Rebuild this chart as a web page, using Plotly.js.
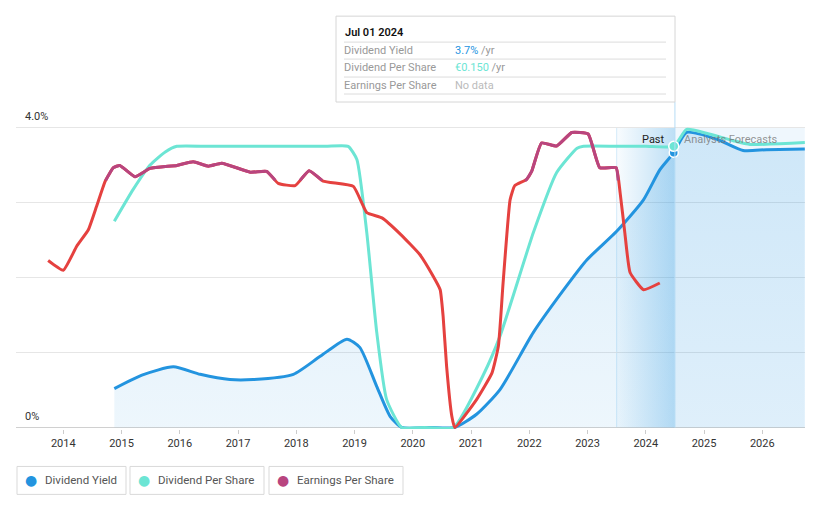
<!DOCTYPE html>
<html>
<head>
<meta charset="utf-8">
<script src="https://cdn.plot.ly/plotly-3.0.1.min.js"></script>
<style>html,body{margin:0;padding:0;background:#fff;}#chart{width:821px;height:508px;}</style>
</head>
<body>
<div id="chart"></div>
<script>
// ---- Data ----
const yieldYears = [2014.876, 2015.35, 2015.89, 2016.35, 2016.86, 2017.26, 2017.95, 2018.41, 2018.87, 2019.09, 2019.38, 2019.61, 2019.81, 2020.3, 2020.72, 2021.1, 2021.5, 2022.07, 2022.64, 2022.99, 2023.5, 2023.96, 2024.24, 2024.48, 2024.7, 2025.22, 2025.67, 2026.07, 2026.73];
const yieldPct   = [0.52, 0.70, 0.81, 0.71, 0.64, 0.64, 0.71, 0.95, 1.18, 1.07, 0.55, 0.15, 0.0, 0.0, 0.0, 0.18, 0.51, 1.27, 1.89, 2.24, 2.62, 3.04, 3.44, 3.67, 3.94, 3.85, 3.70, 3.71, 3.72];

const dpsYears = [2014.876, 2015.2, 2015.49, 2015.75, 2015.95, 2016.5, 2017.5, 2018.5, 2018.89, 2019.04, 2019.21, 2019.38, 2019.55, 2019.81, 2020.2, 2020.70, 2021.21, 2021.5, 2022.07, 2022.47, 2022.82, 2022.93, 2023.5, 2024.0, 2024.48, 2024.7, 2025.04, 2025.5, 2025.79, 2026.73];
const dpsEur   = [0.110, 0.127, 0.140, 0.147, 0.150, 0.150, 0.150, 0.150, 0.150, 0.143, 0.104, 0.051, 0.015, 0.0, 0.0, 0.0, 0.028, 0.049, 0.104, 0.136, 0.149, 0.150, 0.150, 0.150, 0.150, 0.159, 0.157, 0.153, 0.151, 0.152];

const epsYears = [2013.74, 2014.0, 2014.23, 2014.43, 2014.57, 2014.72, 2014.86, 2014.97, 2015.23, 2015.49, 2015.95, 2016.23, 2016.49, 2016.72, 2017.21, 2017.49, 2017.69, 2017.98, 2018.22, 2018.46, 2018.98, 2019.21, 2019.47, 2019.79, 2020.12, 2020.35, 2020.47, 2020.52, 2020.58, 2020.67, 2020.72, 2021.10, 2021.36, 2021.47, 2021.55, 2021.67, 2021.75, 2021.95, 2022.04, 2022.21, 2022.47, 2022.73, 2023.01, 2023.21, 2023.49, 2023.56, 2023.64, 2023.73, 2023.96, 2024.24];
const epsVal   = [2.23, 2.10, 2.42, 2.64, 2.95, 3.29, 3.47, 3.50, 3.35, 3.46, 3.50, 3.55, 3.49, 3.53, 3.41, 3.42, 3.26, 3.23, 3.43, 3.29, 3.22, 2.87, 2.80, 2.58, 2.31, 2.02, 1.84, 1.49, 0.82, 0.15, 0.0, 0.38, 0.73, 1.09, 1.93, 3.04, 3.23, 3.31, 3.42, 3.80, 3.76, 3.94, 3.92, 3.47, 3.47, 3.13, 2.60, 2.07, 1.84, 1.93];
const epsThreshold = 3.3;

const xTickVals = [2014, 2015, 2016, 2017, 2018, 2019, 2020, 2021, 2022, 2023, 2024, 2025, 2026];
const xTickText = ["2014", "2015", "2016", "2017", "2018", "2019", "2020", "2021", "2022", "2023", "2024", "2025", "2026"];
const yTickVals = [0, 1, 2, 3, 4];
const yTickText = ["0%", "", "", "", "4.0%"];

const seriesNames = ["Dividend Yield", "Dividend Per Share", "Earnings Per Share"];
const tooltipDate = "Jul 01 2024";
const tooltipValues = ["3.7%", "€0.150", "No data"];
const tooltipUnits = [" /yr", " /yr", ""];
const pastStart = 2023.5, nowX = 2024.5, xEnd = 2026.73;

// ---- Colors ----
const C_YIELD = "#2394df", C_DPS = "#6ce5d4", C_EPS_HI = "#b8457f", C_EPS_LO = "#e5413f";

// Build purple (above threshold) segments of EPS with crossing points
const epsHiX = [], epsHiY = [];
for (let i = 0; i < epsYears.length; i++) {
  const v = epsVal[i];
  if (i > 0) {
    const pv = epsVal[i-1];
    if ((pv - epsThreshold) * (v - epsThreshold) < 0) {
      const t = (epsThreshold - pv) / (v - pv);
      epsHiX.push(epsYears[i-1] + t * (epsYears[i] - epsYears[i-1]));
      epsHiY.push(epsThreshold);
      if (v < epsThreshold) { epsHiX.push(null); epsHiY.push(null); }
    }
  }
  if (v >= epsThreshold) { epsHiX.push(epsYears[i]); epsHiY.push(v); }
}

const traces = [
  {x:[nowX, xEnd, xEnd, nowX, nowX], y:[0,0,4,4,0], mode:'lines', fill:'toself', line:{width:0},
   fillcolor:'rgba(35,148,223,0.07)', hoverinfo:'skip', showlegend:false},
  {x:[pastStart, nowX, nowX, pastStart, pastStart], y:[0,0,4,4,0], mode:'lines', fill:'toself', line:{width:0},
   fillgradient:{type:'horizontal', colorscale:[[0,'rgba(35,148,223,0.03)'],[1,'rgba(35,148,223,0.30)']]},
   hoverinfo:'skip', showlegend:false},
  {x:yieldYears, y:yieldPct, mode:'lines', name:seriesNames[0], fill:'tozeroy',
   fillgradient:{type:'vertical', colorscale:[[0,'rgba(35,148,223,0.08)'],[1,'rgba(35,148,223,0.16)']]},
   line:{color:C_YIELD, width:3, shape:'spline', smoothing:0.6}, hoverinfo:'skip', showlegend:false},
  {x:dpsYears, y:dpsEur, yaxis:'y2', mode:'lines', name:seriesNames[1],
   line:{color:C_DPS, width:3, shape:'spline', smoothing:0.5}, hoverinfo:'skip', showlegend:false},
  {x:epsYears, y:epsVal, yaxis:'y3', mode:'lines', name:seriesNames[2],
   line:{color:C_EPS_LO, width:3, shape:'spline', smoothing:0.4}, hoverinfo:'skip', showlegend:false},
  {x:epsHiX, y:epsHiY, yaxis:'y3', mode:'lines', connectgaps:false,
   line:{color:C_EPS_HI, width:3, shape:'spline', smoothing:0.4}, hoverinfo:'skip', showlegend:false},
  {x:[yieldYears[23]], y:[yieldPct[23]], mode:'markers', marker:{color:C_YIELD, size:9, line:{color:'#fff', width:1.5}},
   hoverinfo:'skip', showlegend:false, cliponaxis:false},
  {x:[dpsYears[24]], y:[dpsEur[24]], yaxis:'y2', mode:'markers', marker:{color:C_DPS, size:10, line:{color:'#fff', width:1.5}},
   hoverinfo:'skip', showlegend:false, cliponaxis:false}
];

// Geometry: 0% at y=428, 4% at y=128 (75 px per unit)
const yLo = -0.02, yHi = 4.28;
const L = 16, W = 789, T = 107, B = 78.5, H = 508 - T - B;
const dpsScale = 0.150 / 3.755;
const px = v => (v - L) / W;
const py = v => (T + H - v) / H;

const font = {family:'Roboto, "Open Sans", sans-serif', size:11, color:'#333'};
const annotations = [];
const shapes = [];

annotations.push({xref:'x', yref:'paper', x:nowX, y:py(140), xshift:-8, xanchor:'right', yanchor:'middle', text:'Past', showarrow:false, font:{family:font.family, size:11, color:'#222'}});
annotations.push({xref:'x', yref:'paper', x:nowX, y:py(140), xshift:7, xanchor:'left', yanchor:'middle', text:'Analysts Forecasts', showarrow:false, font:{family:font.family, size:11, color:'rgba(120,120,120,0.8)'}});

shapes.push({type:'line', xref:'x', yref:'paper', x0:nowX, x1:nowX, y0:py(428), y1:py(102), line:{color:'#b7dcf5', width:1}, layer:'above'});
shapes.push({type:'line', xref:'x', yref:'y', x0:pastStart, x1:pastStart, y0:0, y1:4, line:{color:'rgba(35,148,223,0.18)', width:1}, layer:'below'});

// Tooltip box
shapes.push({type:'rect', xref:'paper', yref:'paper', x0:px(336), x1:px(675), y0:py(102), y1:py(16), line:{color:'#d6d6d6', width:1}, fillcolor:'#ffffff', layer:'above'});
[42, 59, 77, 94].forEach(yy => shapes.push({type:'line', xref:'paper', yref:'paper', x0:px(344), x1:px(666), y0:py(yy), y1:py(yy), line:{color:'#dcdcdc', width:1}, layer:'above'}));
annotations.push({xref:'paper', yref:'paper', x:px(343), y:py(32), xanchor:'left', yanchor:'middle', showarrow:false, text:tooltipDate, font:{family:font.family, size:11, color:'#111', weight:600}});
const valColors = [C_YIELD, C_DPS, '#bbbbbb'];
[50, 67, 85].forEach((yy, i) => {
  annotations.push({xref:'paper', yref:'paper', x:px(342), y:py(yy), xanchor:'left', yanchor:'middle', showarrow:false, text:seriesNames[i], font:{family:font.family, size:11, color:'#999'}});
  annotations.push({xref:'paper', yref:'paper', x:px(453), y:py(yy), xanchor:'left', yanchor:'middle', showarrow:false,
    text:'<span style="color:'+valColors[i]+'">'+tooltipValues[i]+'</span><span style="color:#999">'+tooltipUnits[i]+'</span>', font:{family:font.family, size:11, color:'#999'}});
});

// Legend boxes
const legendBoxes = [[17,126],[130,264],[269,403]];
const legendColors = [C_YIELD, C_DPS, C_EPS_HI];
legendBoxes.forEach((b, i) => {
  shapes.push({type:'rect', xref:'paper', yref:'paper', x0:px(b[0]), x1:px(b[1]), y0:py(495), y1:py(467), line:{color:'#d9d9d9', width:1}, fillcolor:'#fff'});
  annotations.push({xref:'paper', yref:'paper', x:px(b[0]+14), y:py(480.5), xanchor:'center', yanchor:'middle', showarrow:false,
    text:'●', font:{family:'"DejaVu Sans", sans-serif', size:14, color:legendColors[i]}});
  annotations.push({xref:'paper', yref:'paper', x:px(b[0]+26), y:py(481), xanchor:'left', yanchor:'middle', showarrow:false,
    text:seriesNames[i], font:{family:font.family, size:11.5, color:'#555'}});
});

const layout = {
  width:821, height:508,
  margin:{l:L, r:821-L-W, t:T, b:B, pad:0},
  paper_bgcolor:'#fff', plot_bgcolor:'#fff',
  font:font,
  showlegend:false,
  xaxis:{range:[2013.188, 2026.733], tickvals:xTickVals, ticktext:xTickText, showgrid:false, zeroline:false,
    showline:false, ticks:'outside', ticklen:4, tickcolor:'#cccccc', tickfont:{family:font.family, size:11, color:'#333'}, fixedrange:true},
  yaxis:{range:[yLo, yHi], tickvals:yTickVals, ticktext:yTickText, showgrid:true, gridcolor:'#e6e6e6', gridwidth:1,
    zeroline:true, zerolinecolor:'#d0d0d0', zerolinewidth:1, showline:false, ticks:'',
    ticklabelposition:'inside top', ticklabelstandoff:6, ticklabelshift:-4, tickfont:{family:font.family, size:11, color:'#333'}, fixedrange:true},
  yaxis2:{overlaying:'y', range:[yLo*dpsScale, yHi*dpsScale], visible:false, fixedrange:true},
  yaxis3:{overlaying:'y', range:[yLo, yHi], visible:false, fixedrange:true},
  shapes:shapes,
  annotations:annotations
};

Plotly.newPlot('chart', traces, layout, {displayModeBar:false, staticPlot:true});
</script>
</body>
</html>
